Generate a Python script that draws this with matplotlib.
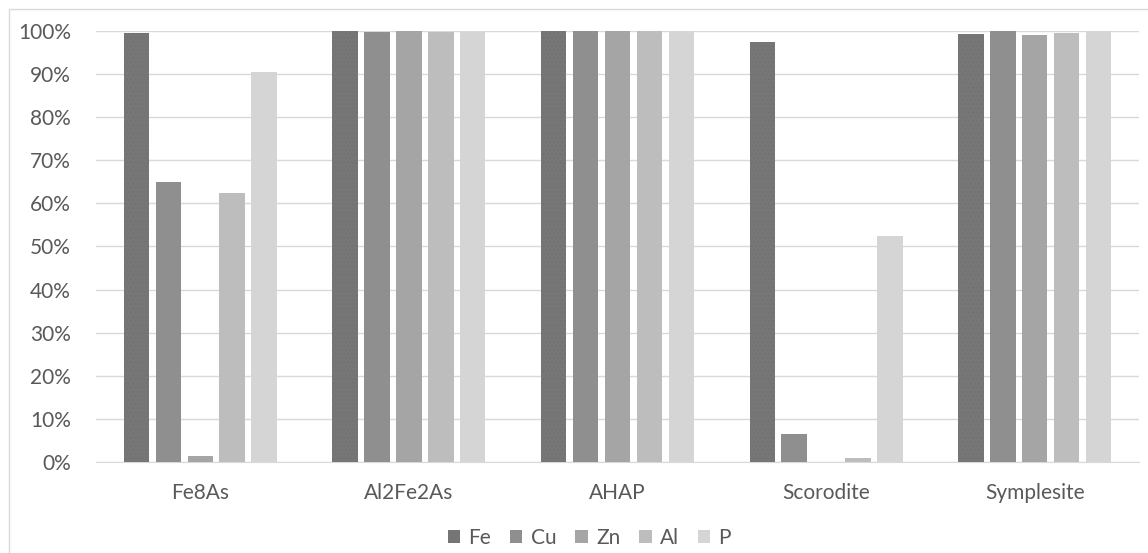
import matplotlib.pyplot as plt
from matplotlib.patches import Rectangle
from matplotlib.ticker import PercentFormatter
import numpy as np

plt.rcParams['font.family'] = ['Lato', 'DejaVu Sans']
plt.rcParams['hatch.linewidth'] = 0.3

# dados (%)
minerais = ["Fe8As", "Al2Fe2As", "AHAP", "Scorodite", "Symplesite"]
elementos = ["Fe", "Cu", "Zn", "Al", "P"]
fe = [99.5, 100.0, 99.9, 97.5, 99.3]
cu = [65.0, 99.8, 100.0, 6.5, 100.0]
zn = [1.5, 100.0, 99.9, 0.0, 99.1]
al = [62.5, 99.8, 99.9, 1.0, 99.6]
p = [90.5, 99.8, 100.0, 52.5, 100.0]
series = [fe, cu, zn, al, p]
cores = ["#767676", "#8f8f8f", "#a5a5a5", "#bdbdbd", "#d5d5d5"]

texto = "#595959"
grade = "#d9d9d9"

fig = plt.figure(figsize=(11.48, 5.53), dpi=100)
fig.patches.append(Rectangle((9 / 1148, -0.1), 1.2, (553 - 9) / 553 + 0.1,
                             transform=fig.transFigure, facecolor="none",
                             edgecolor=grade, linewidth=1))
ax = fig.add_axes([96 / 1148, (553 - 462) / 553, (1139 - 96) / 1148, (462 - 31) / 553])

x = np.arange(len(minerais))
passo = 0.153
largura = 0.122
for i, (nome, valores) in enumerate(zip(elementos, series)):
    pos = x + (i - 2) * passo
    ax.bar(pos, valores, width=largura, color=cores[i], label=nome, zorder=3,
           hatch="...." if i == 0 else None, edgecolor="#6e6e6e" if i == 0 else cores[i],
           linewidth=0)

ax.set_xlim(-0.5, len(minerais) - 0.5)
ax.set_ylim(0, 100)
ax.set_yticks(np.arange(0, 101, 10))
ax.yaxis.set_major_formatter(PercentFormatter(decimals=0))
ax.set_xticks(x)
ax.set_xticklabels(minerais)
ax.grid(axis="y", color=grade, linewidth=1, zorder=0)
for lado in ["top", "right", "left"]:
    ax.spines[lado].set_visible(False)
ax.spines["bottom"].set_color(grade)
ax.tick_params(axis="both", length=0, labelsize=15, colors=texto)
ax.tick_params(axis="x", pad=15)
ax.tick_params(axis="y", pad=18)

leg = ax.legend(loc="upper center", bbox_to_anchor=(0.473, -0.11), ncol=5, frameon=False,
                fontsize=15, handlelength=0.6, handleheight=0.6, handletextpad=0.4,
                columnspacing=0.9, labelcolor=texto)

fig.savefig("out.png", dpi=100)
